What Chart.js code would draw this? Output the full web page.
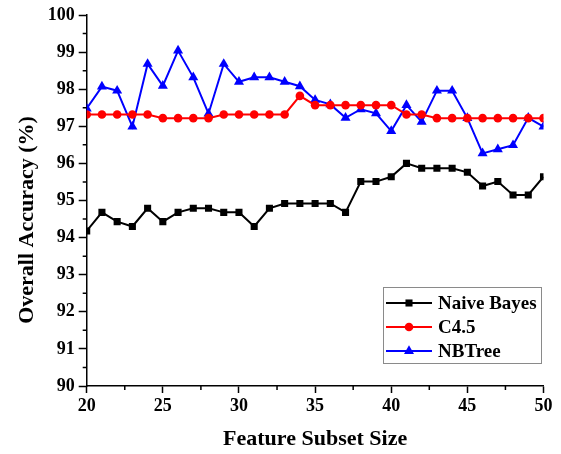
<!DOCTYPE html>
<html>
<head>
<meta charset="utf-8">
<script src="https://cdn.jsdelivr.net/npm/chart.js@4/dist/chart.umd.min.js"></script>
<style>
    html, body { margin: 0; padding: 0; background: #fff; }
    #wrap { width: 561px; height: 454px; position: relative; }
</style>
</head>
<body>
<div id="wrap"><canvas id="accuracyChart"></canvas></div>
<script>
// feature subset sizes (x axis)
const featureSizes = [20, 21, 22, 23, 24, 25, 26, 27, 28, 29, 30, 31, 32, 33, 34, 35,
    36, 37, 38, 39, 40, 41, 42, 43, 44, 45, 46, 47, 48, 49, 50];

// overall accuracy (%) per classifier
const naiveBayes = [94.18, 94.68, 94.43, 94.30, 94.79, 94.43, 94.68, 94.79, 94.79, 94.68, 94.68,
    94.30, 94.79, 94.92, 94.92, 94.92, 94.92, 94.68, 95.51, 95.51, 95.64, 96.00, 95.87, 95.87,
    95.87, 95.76, 95.39, 95.51, 95.15, 95.15, 95.64];
const c45 = [97.32, 97.32, 97.32, 97.32, 97.32, 97.22, 97.22, 97.22, 97.22, 97.32, 97.32,
    97.32, 97.32, 97.32, 97.82, 97.57, 97.57, 97.57, 97.57, 97.57, 97.57, 97.32, 97.32, 97.22,
    97.22, 97.22, 97.22, 97.22, 97.22, 97.22, 97.22];
const nbTree = [97.48, 98.07, 97.96, 96.99, 98.68, 98.09, 99.04, 98.32, 97.34, 98.68, 98.20,
    98.32, 98.32, 98.20, 98.08, 97.71, 97.59, 97.23, 97.46, 97.35, 96.87, 97.57, 97.12, 97.96,
    97.96, 97.22, 96.27, 96.38, 96.49, 97.23, 96.99];

const seriesLabels = ['Naive Bayes', 'C4.5', 'NBTree'];
const xTitle = 'Feature Subset Size';
const yTitle = 'Overall Accuracy (%)';

const FONT = "'Liberation Serif', 'Times New Roman', serif";

function toPoints(values) {
    return featureSizes.map((x, i) => ({ x: x, y: values[i] }));
}

// draws a legend marker the same way the datasets do
function drawMarker(ctx, style, x, y, r, color) {
    ctx.save();
    ctx.fillStyle = color;
    ctx.beginPath();
    if (style === 'rect') {
        const s = Math.SQRT1_2 * r;
        ctx.rect(x - s, y - s, 2 * s, 2 * s);
    } else if (style === 'triangle') {
        for (let k = 0; k < 3; k++) {
            const a = k * 2 * Math.PI / 3;
            const px = x + Math.sin(a) * r;
            const py = y - Math.cos(a) * r;
            if (k === 0) ctx.moveTo(px, py); else ctx.lineTo(px, py);
        }
        ctx.closePath();
    } else {
        ctx.arc(x, y, r, 0, Math.PI * 2);
    }
    ctx.fill();
    ctx.restore();
}

const extrasPlugin = {
    id: 'extras',
    afterDraw(chart) {
        const ctx = chart.ctx;
        const xs = chart.scales.x;
        const ys = chart.scales.y;
        const area = chart.chartArea;

        // minor ticks
        ctx.save();
        ctx.strokeStyle = '#000';
        ctx.lineWidth = 1.5;
        ctx.beginPath();
        for (let v = xs.min + 2.5; v < xs.max; v += 5) {
            const px = xs.getPixelForValue(v);
            ctx.moveTo(px, area.bottom);
            ctx.lineTo(px, area.bottom + 4);
        }
        for (let v = ys.min + 0.5; v < ys.max; v += 1) {
            const py = ys.getPixelForValue(v);
            ctx.moveTo(area.left, py);
            ctx.lineTo(area.left - 4, py);
        }
        ctx.stroke();
        ctx.restore();

        // y axis title
        ctx.save();
        ctx.translate(27, 220);
        ctx.rotate(-Math.PI / 2);
        ctx.font = 'bold 22px ' + FONT;
        ctx.fillStyle = '#000';
        ctx.textAlign = 'center';
        ctx.textBaseline = 'middle';
        ctx.fillText(yTitle, 0, 0);
        ctx.restore();

        // legend box inside the plot
        const bx = 383, by = 287, bw = 158, bh = 76;
        ctx.save();
        ctx.strokeStyle = '#8a8a8a';
        ctx.lineWidth = 1;
        ctx.strokeRect(bx + 0.5, by + 0.5, bw, bh);
        ctx.font = 'bold 19px ' + FONT;
        ctx.textBaseline = 'middle';
        ctx.fillStyle = '#000';
        chart.data.datasets.forEach((ds, i) => {
            const ry = by + 16 + i * 24;
            ctx.strokeStyle = ds.borderColor;
            ctx.lineWidth = 2;
            ctx.beginPath();
            ctx.moveTo(bx + 3, ry);
            ctx.lineTo(bx + 49, ry);
            ctx.stroke();
            drawMarker(ctx, ds.pointStyle, bx + 26, ry, ds.pointRadius, ds.backgroundColor);
            ctx.fillStyle = '#000';
            ctx.fillText(ds.label, bx + 55, ry + 1);
        });
        ctx.restore();
    }
};

const accuracyCtx = document.getElementById('accuracyChart').getContext('2d');

window.accuracyChart = new Chart(accuracyCtx, {
    type: 'line',
    data: {
        datasets: [{
            label: seriesLabels[0],
            data: toPoints(naiveBayes),
            borderColor: '#000000',
            backgroundColor: '#000000',
            borderWidth: 2,
            pointStyle: 'rect',
            pointRadius: 5,
            pointBorderWidth: 0,
            tension: 0
        }, {
            label: seriesLabels[1],
            data: toPoints(c45),
            borderColor: '#ff0000',
            backgroundColor: '#ff0000',
            borderWidth: 2,
            pointStyle: 'circle',
            pointRadius: 4.3,
            pointBorderWidth: 0,
            tension: 0
        }, {
            label: seriesLabels[2],
            data: toPoints(nbTree),
            borderColor: '#0000ff',
            backgroundColor: '#0000ff',
            borderWidth: 2,
            pointStyle: 'triangle',
            pointRadius: 5.8,
            pointBorderWidth: 0,
            tension: 0
        }]
    },
    options: {
        responsive: true,
        maintainAspectRatio: false,
        animation: false,
        layout: {
            padding: { top: 15, right: 17.5, bottom: 0, left: 0 }
        },
        plugins: {
            legend: { display: false },
            tooltip: { enabled: false }
        },
        scales: {
            x: {
                type: 'linear',
                min: 20,
                max: 50,
                afterFit: function (scale) { scale.height = 68; },
                border: { color: '#000', width: 1.5 },
                grid: {
                    drawOnChartArea: false,
                    tickLength: 7,
                    tickColor: '#000',
                    tickWidth: 1.5
                },
                ticks: {
                    stepSize: 5,
                    autoSkip: false,
                    maxRotation: 0,
                    padding: 3,
                    color: '#000',
                    font: { family: FONT, size: 18, weight: 'bold' }
                },
                title: {
                    display: true,
                    text: xTitle,
                    color: '#000',
                    padding: { top: 0, bottom: 1 },
                    font: { family: FONT, size: 22, weight: 'bold' }
                }
            },
            y: {
                min: 90,
                max: 100,
                afterFit: function (scale) { scale.width = 86.7; },
                border: { color: '#000', width: 1.5 },
                grid: {
                    drawOnChartArea: false,
                    tickLength: 8,
                    tickColor: '#000',
                    tickWidth: 1.5
                },
                ticks: {
                    stepSize: 1,
                    autoSkip: false,
                    padding: 4,
                    color: '#000',
                    font: { family: FONT, size: 18, weight: 'bold' }
                }
            }
        }
    },
    plugins: [extrasPlugin]
});
</script>
</body>
</html>
